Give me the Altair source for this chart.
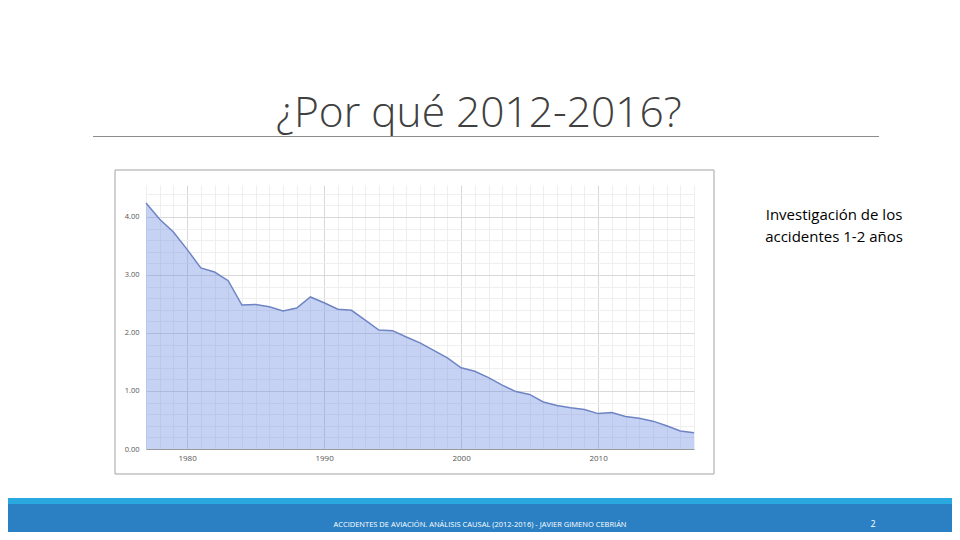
import altair as alt
import pandas as pd

# ---- data ----
years = list(range(1977, 2018))
rates = [4.24, 3.96, 3.74, 3.44, 3.12, 3.05, 2.90, 2.48, 2.49, 2.45,
         2.38, 2.43, 2.62, 2.52, 2.41, 2.39, 2.22, 2.05, 2.04, 1.93,
         1.83, 1.70, 1.57, 1.40, 1.34, 1.23, 1.10, 0.99, 0.94, 0.81,
         0.75, 0.71, 0.68, 0.61, 0.63, 0.56, 0.53, 0.48, 0.40, 0.31, 0.28]
x_major = [1980, 1990, 2000, 2010]
x_minor = [y for y in years if y not in x_major]
y_major = [0, 1, 2, 3, 4]
y_minor = [0.2, 0.4, 0.6, 0.8, 1.2, 1.4, 1.6, 1.8, 2.2, 2.4, 2.6, 2.8,
           3.2, 3.4, 3.6, 3.8, 4.2, 4.4]

title_text = ["¿Por qué 2012-2016?"]
side_text = ["Investigación de los", "accidentes 1-2 años"]
footer_text = ["ACCIDENTES DE AVIACIÓN. ANÁLISIS CAUSAL (2012-2016) - JAVIER GIMENO CEBRIÁN"]
page_number = ["2"]

df = pd.DataFrame({"year": years, "rate": rates})
one = pd.DataFrame({"k": [0]})

xs = alt.Scale(domain=[1977, 2017], nice=False, zero=False)
ys = alt.Scale(domain=[0, 4.55], nice=False, zero=True)

area = alt.Chart(df).mark_area(color="#6d8ee0", opacity=0.4).encode(
    x=alt.X("year:Q", scale=xs, axis=alt.Axis(
        values=x_major, format="d", title=None, grid=True, gridColor="#d8d8d8",
        labelFontSize=8, labelColor="#555555", labelFont="Open Sans",
        ticks=False, labelPadding=5, domain=True, domainColor="#9a9a9a")),
    y=alt.Y("rate:Q", scale=ys, axis=alt.Axis(
        values=y_major, format=".2f", title=None, grid=True, gridColor="#d8d8d8",
        labelFontSize=7.5, labelColor="#555555", labelFont="Open Sans",
        ticks=False, labelPadding=7, domain=False)),
)

line = alt.Chart(df).mark_line(color="#6f84c4", strokeWidth=1.5).encode(
    x=alt.X("year:Q", scale=xs, axis=alt.Axis(
        orient="top", values=x_minor, labels=False, ticks=False, domain=False,
        grid=True, gridColor="#efefef", title=None)),
    y=alt.Y("rate:Q", scale=ys, axis=alt.Axis(
        orient="right", values=y_minor, labels=False, ticks=False, domain=False,
        grid=True, gridColor="#efefef", title=None)),
)

# ---- slide decorations (pixel positions relative to plot origin) ----
border = alt.Chart(one).mark_rect(fillOpacity=0, stroke="#a3a3a3", strokeWidth=1, clip=False).encode(
    x=alt.value(-31), x2=alt.value(568), y=alt.value(-15), y2=alt.value(289))

title = alt.Chart(one).mark_text(align="left", baseline="alphabetic", font="Open Sans",
                                 fontSize=42.5, fontWeight=300, color="#404040", clip=False).encode(
    x=alt.value(130), y=alt.value(-58), text=alt.value(title_text[0]))

title_rule = alt.Chart(one).mark_rule(color="#8c8c8c", strokeWidth=1, clip=False).encode(
    x=alt.value(-53), x2=alt.value(733), y=alt.value(-48.5))

side = alt.Chart(one).mark_text(align="center", baseline="alphabetic", font="Open Sans",
                                fontSize=15, color="#000000", lineHeight=22, clip=False).encode(
    x=alt.value(688), y=alt.value(35), text=alt.value(side_text))

foot_light = alt.Chart(one).mark_rect(color="#29a9e0", clip=False).encode(
    x=alt.value(-146), x2=alt.value(814), y=alt.value(313), y2=alt.value(319))
foot_dark = alt.Chart(one).mark_rect(color="#2a80c3", clip=False).encode(
    x=alt.value(-146), x2=alt.value(814), y=alt.value(319), y2=alt.value(370))

foot_text = alt.Chart(one).mark_text(align="center", baseline="alphabetic", font="Open Sans",
                                     fontSize=7.5, color="#ffffff", clip=False).encode(
    x=alt.value(334), y=alt.value(342), text=alt.value(footer_text[0]))
foot_num = alt.Chart(one).mark_text(align="center", baseline="alphabetic", font="Open Sans",
                                    fontSize=9, color="#ffffff", clip=False).encode(
    x=alt.value(727), y=alt.value(342), text=alt.value(page_number[0]))

chart = alt.layer(
    area, line, border, title, title_rule, side, foot_light, foot_dark, foot_text, foot_num
).resolve_axis(x="independent", y="independent").properties(
    width=548, height=264,
    autosize=alt.AutoSizeParams(type="none"),
    padding={"left": 138, "top": 177, "right": 258, "bottom": 83},
    background="white",
).configure_view(stroke=None)

chart.save("out.html", embed_options={"renderer": "svg", "actions": False})
